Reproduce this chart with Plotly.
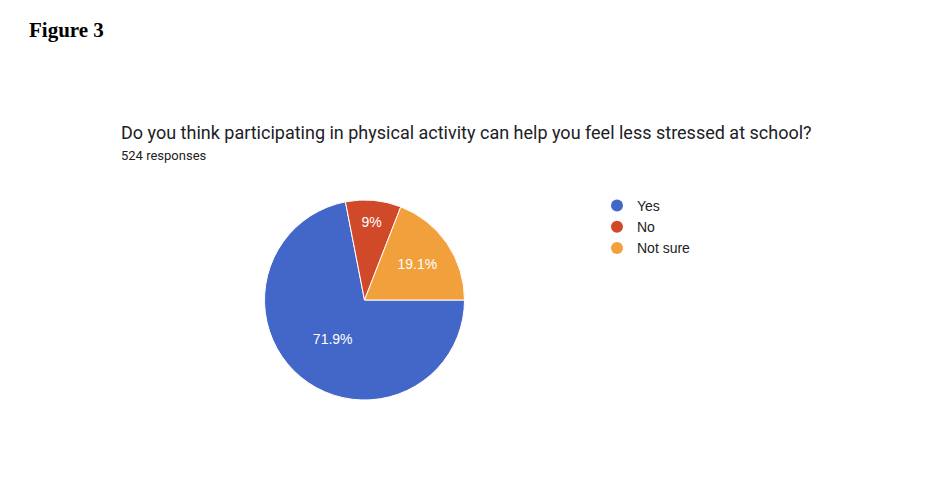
import plotly.graph_objects as go

labels = ["Yes", "No", "Not sure"]
counts = [377, 47, 100]
colors = ["#4267c8", "#d04a29", "#f2a03b"]
fig_label = "Figure 3"
question = "Do you think participating in physical activity can help you feel less stressed at school?"
total = sum(counts)
responses_text = f"{total} responses"

def fmt_pct(v):
    s = f"{v / total * 100:.1f}".rstrip("0").rstrip(".")
    return s + "%"

slice_text = [fmt_pct(v) for v in counts]

W, H = 936, 480
fig = go.Figure()
fig.add_trace(go.Pie(
    labels=labels, values=counts, sort=False, direction="clockwise", rotation=90,
    marker=dict(colors=colors, line=dict(color="white", width=1)),
    text=slice_text, textinfo="text", textposition="inside", insidetextorientation="horizontal",
    textfont=dict(family="Arial, Liberation Sans, sans-serif", size=14, color="white"),
    showlegend=False, hoverinfo="label+percent",
    domain=dict(x=[264 / W, 465 / W], y=[80 / H, 280 / H]),
))
for lab, col in zip(labels, colors):
    fig.add_trace(go.Scatter(
        x=[None], y=[None], mode="markers", name=lab,
        marker=dict(symbol="circle", size=12, color=col),
        showlegend=True,
    ))

fig.update_layout(
    width=W, height=H, margin=dict(l=0, r=0, t=0, b=0),
    paper_bgcolor="white", plot_bgcolor="white",
    xaxis=dict(visible=False), yaxis=dict(visible=False),
    legend=dict(x=597 / W, y=1 - 190 / H, xanchor="left", yanchor="top",
                font=dict(family="Arial, Liberation Sans, sans-serif", size=14, color="#222222"),
                itemwidth=30, tracegroupgap=0, bgcolor="rgba(0,0,0,0)"),
    annotations=[
        dict(text=f"<b>{fig_label}</b>", x=27 / W, y=1 - 30 / H, xref="paper", yref="paper",
             xanchor="left", yanchor="middle", showarrow=False,
             font=dict(family="Liberation Serif, Times New Roman, serif", size=21, color="black")),
        dict(text=question, x=119 / W, y=1 - 132 / H, xref="paper", yref="paper",
             xanchor="left", yanchor="middle", showarrow=False,
             font=dict(family="Roboto, Arial, sans-serif", size=18, color="#202124")),
        dict(text=responses_text, x=119 / W, y=1 - 156 / H, xref="paper", yref="paper",
             xanchor="left", yanchor="middle", showarrow=False,
             font=dict(family="Roboto, Arial, sans-serif", size=13, color="#202124")),
    ],
)
fig.write_html("out.html")
